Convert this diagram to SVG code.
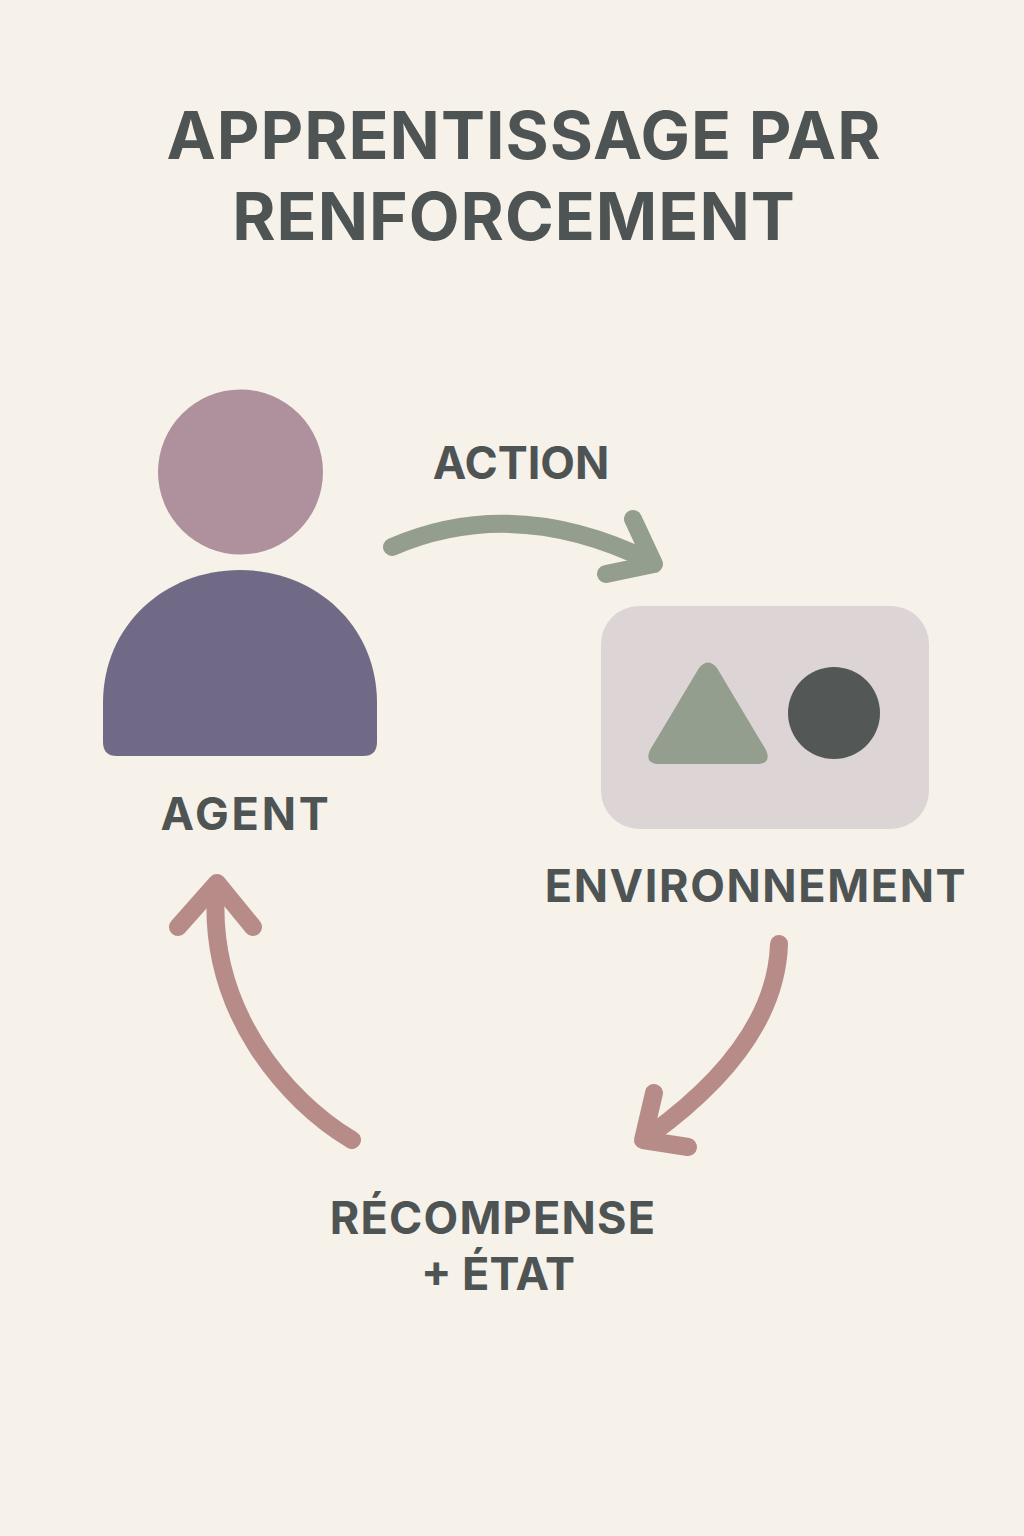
<svg xmlns="http://www.w3.org/2000/svg" width="1024" height="1536" viewBox="0 0 1024 1536">
<style>
text{font-family:"Inter","Noto Sans","Liberation Sans",sans-serif;font-weight:700;fill:#4e5453;text-anchor:middle}
.t{font-size:66px;letter-spacing:1px}
.l{font-size:45px}
.g{fill:none;stroke:#949e8e;stroke-width:18;stroke-linecap:round;stroke-linejoin:round}
.r{fill:none;stroke:#b68b88;stroke-width:18;stroke-linecap:round;stroke-linejoin:round}
</style>
<rect width="1024" height="1536" fill="#f6f1e9"/>
<g id="title"><text class="t" x="524" y="159">APPRENTISSAGE PAR</text><text class="t" x="514" y="240">RENFORCEMENT</text></g>
<g id="agent">
<circle cx="240.500" cy="472" r="82.500" fill="#ae919c"/>
<path d="M103 742V703C103 625 165 570 240 570C315 570 377 625 377 703V742Q377 756 363 756H117Q103 756 103 742Z" fill="#716a86"/>
<text class="l" x="246" y="830" style="letter-spacing:2.8px">AGENT</text>
</g>
<g id="environment">
<rect x="601" y="606" width="328" height="223" rx="38" fill="#ddd5d5"/>
<path d="M699 668Q708 657 717 668L766 750Q772 764 757 764H659Q644 764 650 750Z" fill="#949e8e"/>
<circle cx="834" cy="713" r="46" fill="#535857"/>
<text class="l" x="756" y="902" style="letter-spacing:1.6px">ENVIRONNEMENT</text>
</g>
<g id="action-label"><text class="l" x="521" y="479">ACTION</text></g>
<g id="reward-label"><text class="l" x="493" y="1234" style="letter-spacing:1.2px">RÉCOMPENSE</text><text class="l" x="498" y="1290">+ ÉTAT</text></g>
<g id="connectors">
<path class="g" d="M392 547Q515 494 652 562"/>
<path class="g" d="M633 519L654 564L606 574"/>
<path class="r" d="M779 944C777 1005 740 1070 650 1135"/>
<path class="r" d="M654 1093L643 1140L688 1147"/>
<path class="r" d="M352 1140C285 1100 208 1010 216 890"/>
<path class="r" d="M178 927L217 883L253 927"/>
</g>
</svg>
